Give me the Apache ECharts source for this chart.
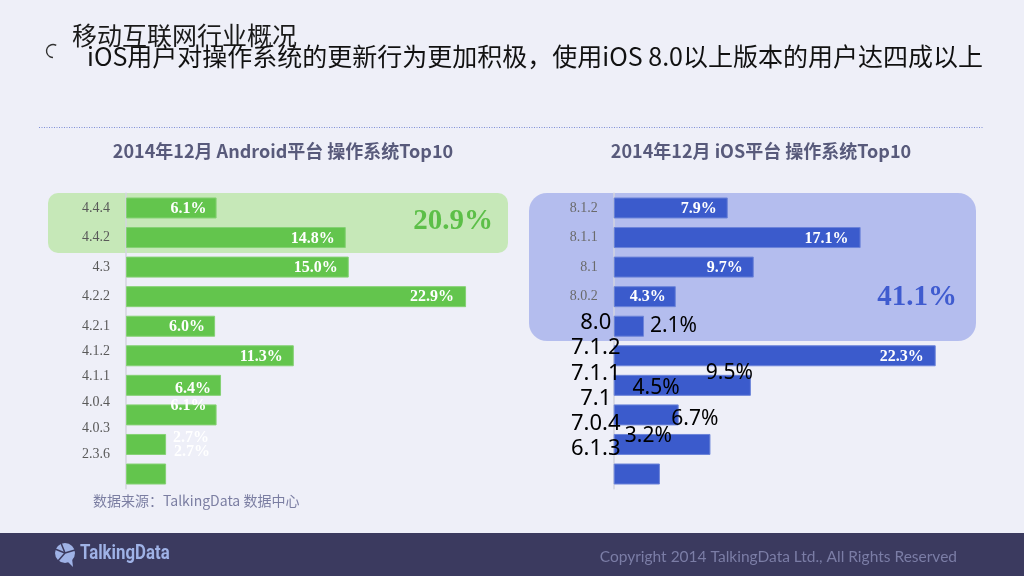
<!DOCTYPE html>
<html>
<head>
<meta charset="utf-8">
<script src="https://cdn.jsdelivr.net/npm/echarts@6/dist/echarts.min.js"></script>
<style>
html,body{margin:0;padding:0;background:#eeeff8;}
#c{width:1024px;height:576px;}
</style>
</head>
<body>
<div id="c"></div>
<script>
// ---- data ----
const androidCategories = ['4.4.4','4.4.2','4.3','4.2.2','4.2.1','4.1.2','4.1.1','4.0.4','4.0.3','2.3.6'];
const androidValues = [6.1, 14.8, 15.0, 22.9, 6.0, 11.3, 6.4, 6.1, 2.7, 2.7];
const iosCategories = ['8.1.2','8.1.1','8.1','8.0.2','8.0','7.1.2','7.1.1','7.1','7.0.4','6.1.3'];
const iosValues = [7.9, 17.1, 9.7, 4.3, 2.1, 22.3, 9.5, 4.5, 6.7, 3.2];
const androidHighlightCount = 2;
const iosHighlightCount = 5;
const titleMain = '移动互联网行业概况';
const titleSub = 'iOS用户对操作系统的更新行为更加积极，使用iOS 8.0以上版本的用户达四成以上';
const androidTitle = '2014年12月 Android平台 操作系统Top10';
const iosTitle = '2014年12月 iOS平台 操作系统Top10';
const sourceText = '数据来源：TalkingData 数据中心';
const copyrightText = 'Copyright 2014 TalkingData Ltd., All Rights Reserved';

// ---- label placement styling (separate from data) ----
const androidLabelDx = [-10,-11,-11,-12,-10,-11,-10,-10,43,44];
const androidLabelDy = [1,1,1,0,1,1,4,-9,-7,-22];
const iosLabelDx = [-11,-12,-11,-10,53,-12,2,1,8,12];
const iosLabelDy = [1,1,1,0,0,1,-12,-27,-25,-38];
const iosLabelKind = ['w','w','w','w','k','w','k','k','k','k'];

const GREEN = '#63c54d', BLUE = '#3b5bcc';
const serif = '"Liberation Serif","Times New Roman",serif';
const sans = '"Noto Sans","Open Sans",sans-serif';
const cjk = '"Noto Sans CJK SC","Noto Sans",sans-serif';

const sum = (arr, n) => arr.slice(0, n).reduce((a, b) => a + b, 0).toFixed(1) + '%';

const whiteLabel = {color:'#fff', fontFamily:serif, fontWeight:'bold', fontSize:16};
const blackLabel = {color:'#000', fontFamily:sans, fontWeight:'normal', fontSize:21};

const chart = echarts.init(document.getElementById('c'));

const hiddenX = (gi, max) => ({type:'value', gridIndex:gi, min:0, max:max, show:false});

const option = {
  backgroundColor:'#eeeff8',
  animation:false,
  grid:[
    {left:126, top:193.2, width:371.25, height:295.6},
    {left:126, top:209.4, width:371.25, height:257.5},
    {left:613.7, top:193.2, width:361, height:295.6},
    {left:613.7, top:209.6, width:361, height:252}
  ],
  xAxis:[hiddenX(0,25), hiddenX(1,25), hiddenX(2,25), hiddenX(3,25)],
  yAxis:[
    {type:'category', gridIndex:0, inverse:true, data:androidCategories, z:3,
     axisLine:{show:true, lineStyle:{color:'#d3d5df', width:1.5}}, axisTick:{show:false},
     axisLabel:{interval:0, margin:16, color:'#595959', fontFamily:serif, fontSize:14,
       formatter:(v,i)=> i < 5 ? v : ''}},
    {type:'category', gridIndex:1, inverse:true, data:androidCategories,
     axisLine:{show:false}, axisTick:{show:false},
     axisLabel:{interval:0, margin:16, color:'#595959', fontFamily:serif, fontSize:14,
       formatter:(v,i)=> i >= 5 ? v : ''}},
    {type:'category', gridIndex:2, inverse:true, data:iosCategories, z:3,
     axisLine:{show:true, lineStyle:{color:'#d3d5df', width:1.5}}, axisTick:{show:false},
     axisLabel:{interval:0, margin:16, color:'#6a6a6a', fontFamily:serif, fontSize:14,
       formatter:(v,i)=> i < 4 ? v : ''}},
    {type:'category', gridIndex:3, inverse:true, data:iosCategories, z:10,
     axisLine:{show:false}, axisTick:{show:false},
     axisLabel:{interval:0, margin:18, align:'center', color:'#000', fontFamily:sans, fontSize:22,
       formatter:(v,i)=> i >= 4 ? v : ''}}
  ],
  series:[
    {type:'bar', xAxisIndex:0, yAxisIndex:0, barWidth:21, z:4,
     itemStyle:{color:GREEN, borderColor:'#85d174', borderWidth:1},
     label:{show:true, position:'insideRight', distance:0, ...whiteLabel,
       formatter:p=>p.value.toFixed(1)+'%'},
     data:androidValues.map((v,i)=>({value:v, label:{offset:[androidLabelDx[i], androidLabelDy[i]]}}))},
    {type:'bar', xAxisIndex:2, yAxisIndex:2, barWidth:21, z:4,
     itemStyle:{color:BLUE, borderColor:'#6c84d9', borderWidth:1},
     label:{show:true, position:'insideRight', distance:0,
       formatter:p=>p.value.toFixed(1)+'%'},
     data:iosValues.map((v,i)=>({value:v, label:Object.assign({offset:[iosLabelDx[i], iosLabelDy[i]]},
       iosLabelKind[i]==='w' ? whiteLabel : blackLabel)}))}
  ],
  graphic:[
    // highlight boxes
    {type:'rect', z:0, shape:{x:48, y:193, width:460, height:60, r:10}, style:{fill:'#c6e8b8'}},
    {type:'rect', z:0, shape:{x:529, y:193, width:447, height:148, r:18}, style:{fill:'#b4bdee'}},
    {type:'text', z:10, style:{text:sum(androidValues, androidHighlightCount), x:453, y:222, align:'center', verticalAlign:'middle',
      fill:'#5cbf48', font:'bold 29px '+serif}},
    {type:'text', z:10, style:{text:sum(iosValues, iosHighlightCount), x:917, y:298, align:'center', verticalAlign:'middle',
      fill:'#3f5bcf', font:'bold 29px '+serif}},
    // titles
    {type:'arc', z:10, shape:{cx:53, cy:51, r:6.5, startAngle:-Math.PI/3, endAngle:Math.PI/2, clockwise:false},
      style:{stroke:'#333', lineWidth:1.4, fill:null}},
    {type:'text', z:10, style:{text:titleMain, x:72, y:35, verticalAlign:'middle', fill:'#1a1a1a', font:'25px '+cjk}},
    {type:'text', z:10, style:{text:titleSub, x:87, y:56, verticalAlign:'middle', fill:'#111', font:'25px '+cjk}},
    {type:'line', z:10, shape:{x1:39, y1:127.5, x2:984, y2:127.5}, style:{stroke:'#7f8fd6', lineWidth:1, lineDash:[1,1.5]}},
    {type:'text', z:10, style:{text:androidTitle, x:283, y:151, align:'center', verticalAlign:'middle', fill:'#585a7b', font:'bold 18px '+cjk}},
    {type:'text', z:10, style:{text:iosTitle, x:761, y:151, align:'center', verticalAlign:'middle', fill:'#585a7b', font:'bold 18px '+cjk}},
    {type:'text', z:10, style:{text:sourceText, x:93, y:501, verticalAlign:'middle', fill:'#7b7ea2', font:'14px '+cjk}},
    // footer
    {type:'rect', z:0, shape:{x:0, y:533, width:1024, height:43}, style:{fill:'#3b3a5f'}},
    {type:'circle', z:10, shape:{cx:65, cy:553, r:10}, style:{fill:'#9fb2e6'}},
    {type:'polygon', z:10, shape:{points:[[66,560],[73,567],[72,558]]}, style:{fill:'#9fb2e6'}},
    {type:'line', z:11, shape:{x1:65, y1:553, x2:55, y2:549}, style:{stroke:'#3b3a5f', lineWidth:1.5}},
    {type:'line', z:11, shape:{x1:65, y1:553, x2:61, y2:543}, style:{stroke:'#3b3a5f', lineWidth:1.5}},
    {type:'line', z:11, shape:{x1:65, y1:553, x2:75, y2:550}, style:{stroke:'#3b3a5f', lineWidth:1.5}},
    {type:'line', z:11, shape:{x1:65, y1:553, x2:58, y2:561}, style:{stroke:'#3b3a5f', lineWidth:1.5}},
    {type:'text', z:10, x:80, y:554, scaleX:0.8, originX:0,
      style:{text:'TalkingData', x:0, y:0, verticalAlign:'middle', fill:'#9fb2e6',
      font:'bold 21px "Roboto","Noto Sans",sans-serif'}},
    {type:'text', z:10, style:{text:copyrightText, x:957, y:557, align:'right', verticalAlign:'middle', fill:'#7b7da6',
      font:'15.5px "Lato","Noto Sans",sans-serif'}}
  ]
};
chart.setOption(option);
</script>
</body>
</html>
